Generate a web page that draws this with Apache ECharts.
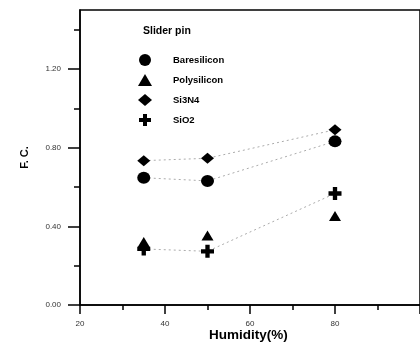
<!DOCTYPE html>
<html>
<head>
<meta charset="utf-8">
<script src="https://cdn.jsdelivr.net/npm/echarts@6/dist/echarts.min.js"></script>
<style>html,body{margin:0;padding:0;background:#fff}#c{width:420px;height:343px}</style>
</head>
<body>
<div id="c"></div>
<script>
var humidity = [35, 50, 80];
var baresilicon = [0.647, 0.631, 0.832];
var polysilicon = [0.320, 0.354, 0.452];
var si3n4 = [0.734, 0.746, 0.891];
var sio2 = [0.285, 0.273, 0.567];
var seriesNames = ['Baresilicon', 'Polysilicon', 'Si3N4', 'SiO2'];
var yMajorTicks = [0, 0.4, 0.8, 1.2];
var yMinorTicks = [0.2, 0.6, 1.0, 1.4];
var xLabelTicks = [20, 40, 60, 80];

var crossPath = 'path://M4,0H8V4H12V8H8V12H4V8H0V4H4Z';
function pts(ys) { return humidity.map(function (x, i) { return [x, ys[i]]; }); }
function mk(name, ys, symbol, size, showLine) {
  return {
    name: name, type: 'line', data: pts(ys), symbol: symbol, symbolSize: size,
    itemStyle: { color: '#000' },
    lineStyle: { color: '#ababab', width: 1, type: [2, 3], opacity: showLine ? 1 : 0 },
    z: 3, animation: false
  };
}
var chart = echarts.init(document.getElementById('c'), null, { renderer: 'canvas' });
chart.setOption({
  animation: false,
  grid: { left: 80, top: 10, width: 394, height: 295, show: true, borderColor: '#000', borderWidth: 1.5, backgroundColor: 'transparent' },
  xAxis: {
    type: 'value', min: 20, max: 100, interval: 20,
    axisLine: { lineStyle: { color: '#000', width: 1.5 } },
    axisTick: { length: 9, lineStyle: { color: '#000', width: 1.5 } },
    minorTick: { show: true, splitNumber: 2, length: 5, lineStyle: { color: '#000', width: 1.5 } },
    axisLabel: { margin: 15, fontSize: 8, color: '#333', fontFamily: 'Liberation Sans', customValues: xLabelTicks },
    splitLine: { show: false }
  },
  yAxis: [{
    type: 'value', min: 0, max: 1.5, position: 'left',
    name: 'F. C.', nameLocation: 'middle', nameGap: 50,
    nameTextStyle: { fontSize: 11, fontWeight: 'bold', color: '#000', fontFamily: 'Liberation Sans' },
    axisLine: { lineStyle: { color: '#000', width: 1.5 } },
    axisTick: { length: 12, customValues: yMajorTicks, lineStyle: { color: '#000', width: 1.5 } },
    axisLabel: { margin: 19, fontSize: 8, color: '#333', fontFamily: 'Liberation Sans', customValues: yMajorTicks,
      formatter: function (v) { return v.toFixed(2); } },
    splitLine: { show: false }
  }, {
    type: 'value', min: 0, max: 1.5, position: 'left',
    axisLine: { show: false },
    axisTick: { length: 6, customValues: yMinorTicks, lineStyle: { color: '#000', width: 1.5 } },
    axisLabel: { show: false },
    splitLine: { show: false }
  }],
  legend: {
    orient: 'vertical', left: 133, top: 49, itemWidth: 14, itemHeight: 12, itemGap: 8,
    selectedMode: false,
    textStyle: { fontSize: 9.5, fontWeight: 'bold', color: '#000', fontFamily: 'Liberation Sans', padding: [0, 0, 0, 16] },
    data: [
      { name: seriesNames[0], icon: 'circle' },
      { name: seriesNames[1], icon: 'triangle' },
      { name: seriesNames[2], icon: 'diamond' },
      { name: seriesNames[3], icon: crossPath }
    ]
  },
  graphic: [
    { type: 'text', left: 143, top: 26, style: { text: 'Slider pin', font: 'bold 10.5px "Liberation Sans"', fill: '#000' } },
    { type: 'text', left: 209, top: 328, style: { text: 'Humidity(%)', font: 'bold 13.5px "Liberation Sans"', fill: '#000' } }
  ],
  series: [
    mk(seriesNames[0], baresilicon, 'circle', [13, 12], true),
    mk(seriesNames[1], polysilicon, 'triangle', [12, 10], false),
    mk(seriesNames[2], si3n4, 'diamond', [13, 11], true),
    mk(seriesNames[3], sio2, crossPath, [13, 13], true)
  ]
});
</script>
</body>
</html>
